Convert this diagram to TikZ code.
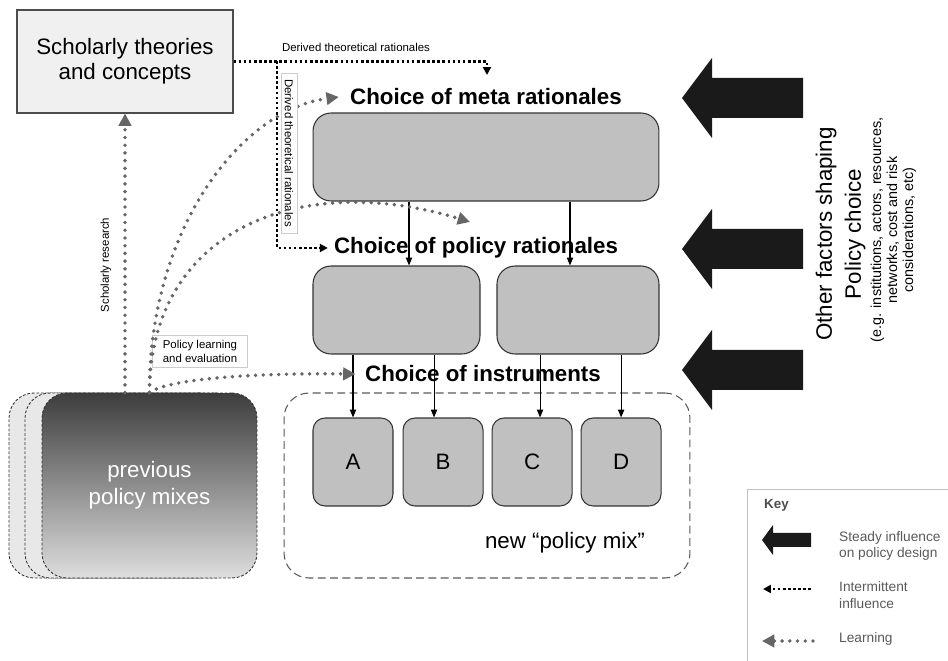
\documentclass[tikz,border=0pt]{standalone}
\usepackage{fontspec}
\setmainfont{Liberation Sans}
\usetikzlibrary{arrows.meta, positioning}

\definecolor{boxgray}{HTML}{C0C0C0}
\definecolor{lightfill}{HTML}{F0F0F0}
\definecolor{learngray}{HTML}{666666}
\definecolor{inkblack}{HTML}{1A1A1A}

\begin{document}
\begin{tikzpicture}[x=0.02cm, y=-0.02cm, >=Stealth,
    bigtext/.style={font=\fontsize{12.7}{15}\selectfont},
    title/.style={font=\bfseries\fontsize{12.7}{15}\selectfont},
    tinylabel/.style={font=\fontsize{6.5}{7.8}\selectfont},
    stagebox/.style={rectangle, draw=black!80, fill=boxgray, rounded corners=0.36cm,
                line width=0.6pt, minimum height=1.76cm},
    instbox/.style={rectangle, draw=black!80, fill=boxgray, rounded corners=0.24cm,
                line width=0.6pt, minimum width=1.6cm, minimum height=1.76cm, bigtext},
    mixbox/.style={rectangle, draw=black!65, line width=0.6pt, dash pattern=on 4.5pt off 2.5pt,
                rounded corners=0.5cm, minimum width=8.12cm, minimum height=3.7cm},
    prevback/.style={rectangle, draw=black!80, fill=black!9, line width=0.5pt,
                dash pattern=on 1.6pt off 1pt, rounded corners=0.5cm,
                minimum width=4.3cm, minimum height=3.7cm},
    prevfront/.style={prevback, top color=black!76, bottom color=black!13,
                text=white, align=center, font=\fontsize{12.7}{15.3}\selectfont},
    keytext/.style={anchor=west, align=left, text=black!65, font=\fontsize{7.8}{9.6}\selectfont},
    arrow/.style={-{Triangle[length=4.5pt,width=3.6pt]}, line width=0.6pt},
    interm/.style={-{Triangle[length=4.5pt,width=4.5pt]}, line width=1.5pt,
                dash pattern=on 1.5pt off 1.4pt},
    learn/.style={-{Triangle[length=7pt,width=7pt]}, draw=learngray, line width=2.2pt,
                dash pattern=on 0pt off 4.4pt, line cap=round}]

    \useasboundingbox (0,0) rectangle (948,661);

    % theory box and the three choices
    \node[rectangle, draw=black!70, fill=lightfill, line width=0.6pt, minimum width=4.32cm,
          minimum height=2.06cm, align=center, font=\fontsize{12.7}{14.2}\selectfont]
          (scholar) at (125,61.5) {Scholarly theories\\and concepts};

    \node[title] (metatitle) at (486,97) {Choice of meta rationales};
    \node[stagebox, minimum width=6.92cm] (meta) at (486,157) {};
    \node[title] (poltitle) at (476,248) {Choice of policy rationales};
    \node[stagebox, minimum width=3.34cm] (polL) at (396.5,310) {};
    \node[stagebox, minimum width=3.24cm] (polR) at (578,310) {};
    \node[title] (insttitle) at (483,374) {Choice of instruments};

    % new policy mix
    \node[mixbox] (newmix) at (487,485.5) {};
    \node[instbox] (A) at (353,462) {A};
    \node[instbox, right=0.18cm of A] (B) {B};
    \node[instbox, right=0.16cm of B] (C) {C};
    \node[instbox, right=0.16cm of C] (D) {D};
    \node[bigtext] (mixlabel) at (565,543) {new “policy mix”};

    % previous policy mixes
    \node[prevback] (prev3) at (116.5,485.5) {};
    \node[prevback] (prev2) at (132.5,485.5) {};
    \node[prevfront] (prev) at (149.5,485.5) {previous\\policy mixes};

    % solid links
    \draw[arrow] ([xshift=0.25cm]polL.north |- meta.south) -- ([xshift=0.25cm]polL.north);
    \draw[arrow] ([xshift=-0.16cm]polR.north |- meta.south) -- ([xshift=-0.16cm]polR.north);
    \draw[arrow] (polL.south -| A.north) -- (A.north);
    \draw[arrow] ([xshift=-0.18cm]B.north |- polL.south) -- ([xshift=-0.18cm]B.north);
    \draw[arrow] ([xshift=0.16cm]C.north |- polR.south) -- ([xshift=0.16cm]C.north);
    \draw[arrow] (polR.south -| D.north) -- (D.north);

    % intermittent influence
    \coordinate (split) at (277,61);
    \coordinate (metain) at (487,75);
    \draw[interm] (scholar.east) -| (metain);
    \draw[interm] (split) |- (poltitle.west);
    \node[tinylabel] (derlabel) at (356,47) {Derived theoretical rationales};

    % learning
    \node[tinylabel, rotate=90] (reslabel) at (106,265) {Scholarly research};
    \node[tinylabel, draw=black!20, fill=white, align=left, inner xsep=6pt, inner ysep=3pt]
          (learnlabel) at (200,351.5) {Policy learning\\and evaluation};
    \coordinate (polin) at (470,222);
    \draw[learn] (prev.north -| scholar.south) -- (scholar.south);
    \draw[learn] (prev.north) .. controls (149,230) and (240,110) .. ([xshift=-3pt]metatitle.west);
    \draw[learn] (prev.north) .. controls (150,230) and (300,170) .. (polin);
    \draw[learn] (prev.north) .. controls (170,378) and (260,373) .. ([xshift=-2pt]insttitle.west);

    % label box sits over the learning curves
    \node[tinylabel, rotate=-90, draw=black!20, fill=white, minimum width=3.2cm,
          minimum height=0.32cm, inner sep=1pt] (derlabelV) at (289,153)
          {Derived theoretical rationales};

    % other factors
    \foreach \yc in {98,249,370}
        \fill[inkblack] (803,\yc-20) -- (712,\yc-20) -- (712,\yc-40) -- (682,\yc)
              -- (712,\yc+40) -- (712,\yc+20) -- (803,\yc+20) -- cycle;
    \node[rotate=90, align=center, font=\fontsize{12.7}{16.5}\selectfont] (factors)
          at (840.5,234) {Other factors shaping\\Policy choice};
    \node[rotate=90, align=center, font=\fontsize{8.2}{9.1}\selectfont] (factorsnote)
          at (893.5,230) {(e.g. institutions, actors, resources,\\networks, cost and risk\\considerations, etc)};

    % key
    \draw[black!25, line width=0.5pt] (948,489) -- (747,489) -- (747,661);
    \node[anchor=west, text=black!70, font=\bfseries\fontsize{7.6}{9}\selectfont] (keytitle)
          at (758,505) {Key};
    \fill[inkblack] (811,533) -- (773,533) -- (773,525) -- (762,540) -- (773,555)
          -- (773,547) -- (811,547) -- cycle;
    \node[keytext] (keysteady) at (833,546) {Steady influence\\on policy design};
    \node[keytext] (keyint) at (833,595) {Intermittent\\influence};
    \node[keytext] (keylearn) at (833,639) {Learning};
    \coordinate (intfrom) at (811,589);
    \coordinate (intto) at (763,589);
    \coordinate (learnfrom) at (813,641);
    \coordinate (learnto) at (762,641);
    \draw[interm] (intfrom) -- (intto);
    \draw[learn] (learnfrom) -- (learnto);
\end{tikzpicture}
\end{document}
